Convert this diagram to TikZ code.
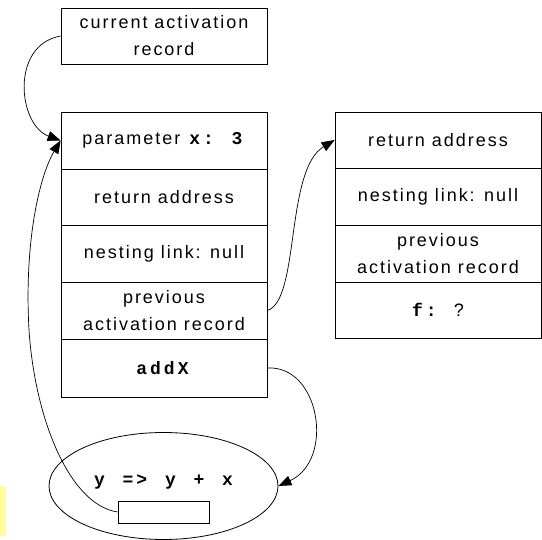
\documentclass[tikz,border=0pt]{standalone}
\usepackage{fontspec}
\setmainfont{Liberation Sans}[LetterSpace=11]
\setmonofont{Liberation Mono}[LetterSpace=17,WordSpace=1.28]
\usetikzlibrary{arrows.meta,shapes.geometric}
\definecolor{stripyellow}{HTML}{FFFF99}
\tikzset{
  cell/.style={draw, line width=0.8pt, minimum width=206pt, minimum height=57pt,
    inner sep=0pt, align=center, font=\fontsize{18}{27}\selectfont},
  link/.style={line width=0.7pt, -{Triangle[length=13pt,width=10pt]}},
  codefont/.style={font=\fontsize{18}{27}\selectfont\ttfamily\bfseries}
}
\begin{document}
\begin{tikzpicture}[x=1pt,y=-1pt]
\useasboundingbox (0,0) rectangle (542,540);
\fill[stripyellow] (0,486) rectangle (6,536);
% top box
\node[cell, minimum height=56pt] (cur) at (164,36) {current activation\\record};
% left stack
\node[cell] (par) at (164,140.5) {parameter \texttt{\textbf{x: 3}}};
\node[cell, minimum height=56pt] (lret) at (164,197) {return address};
\node[cell] (lnest) at (164,253.5) {nesting link: null};
\node[cell] (lprev) at (164,310.5) {previous\\activation record};
\node[cell, minimum height=58pt] (addx) at (164,368) {\texttt{\textbf{addX}}};
% right stack
\node[cell, minimum height=56pt] (rret) at (438,140) {return address};
\node[cell] (rnest) at (438,196.5) {nesting link: null};
\node[cell] (rprev) at (438,253.5) {previous\\activation record};
\node[cell, minimum height=56pt] (rf) at (438,310) {\texttt{\textbf{f:}}~~?};
% closure
\node[draw, ellipse, line width=0.8pt, minimum width=229pt, minimum height=107pt, inner sep=0pt] (lam) at (163.5,486) {};
\node[codefont, inner sep=0pt] (code) at (163.5,482) {y => y + x};
\node[draw, line width=0.8pt, minimum width=91pt, minimum height=22pt, inner sep=0pt] (env) at (163.5,512) {};
% connectors
\draw[link] (cur.west) .. controls (10,45) and (18,125) .. (par.west);
\draw[link] (env.west) .. controls (70,505) and (35,420) .. (29,330)
  .. controls (24,240) and (40,175) .. (par.west);
\draw[link] (lprev.east) .. controls (300,300) and (285,170) .. (rret.west);
\draw[link] (addx.east) .. controls (320,365) and (335,460) .. (lam.east);
\end{tikzpicture}
\end{document}
